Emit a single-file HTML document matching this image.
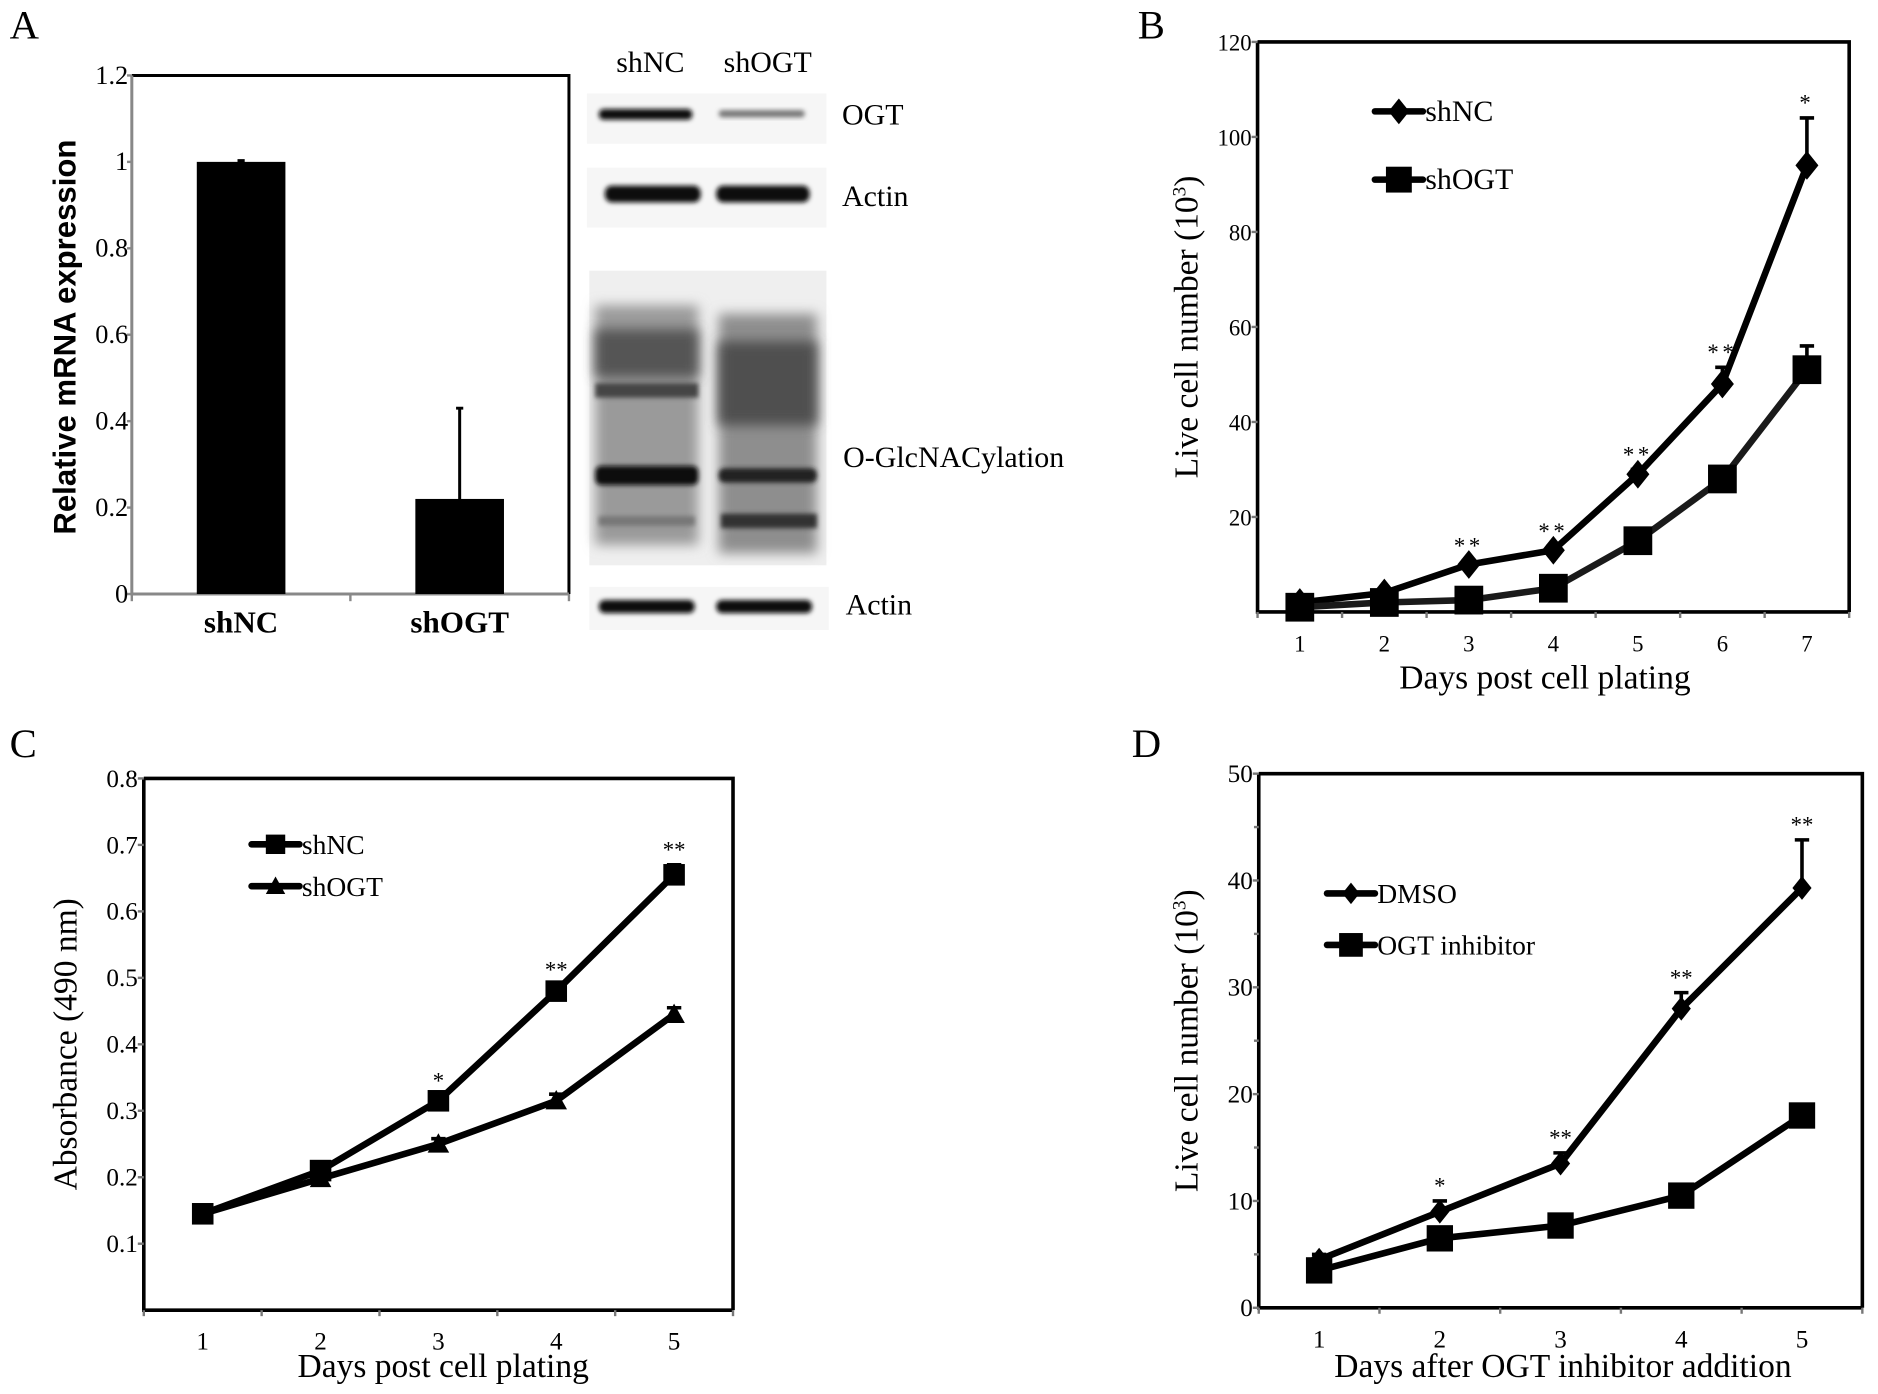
<!DOCTYPE html>
<html><head><meta charset="utf-8"><style>
html,body{margin:0;padding:0;background:#fff}
svg{display:block}
text{font-family:"Liberation Serif",serif;fill:#000}
</style></head><body>
<svg id="fig" width="1878" height="1394" viewBox="0 0 1568 1164" xmlns="http://www.w3.org/2000/svg">
<defs>
<filter id="blur2" x="-20%" y="-50%" width="140%" height="200%"><feGaussianBlur stdDeviation="2"/></filter>
<filter id="blur5" x="-20%" y="-20%" width="140%" height="140%"><feGaussianBlur stdDeviation="5"/></filter>
</defs>
<text x="8" y="32" font-size="34">A</text>
<text x="950" y="32" font-size="34">B</text>
<text x="8" y="632" font-size="34">C</text>
<text x="945" y="632" font-size="34">D</text>

<g>
  <text x="543" y="60" font-size="25" text-anchor="middle">shNC</text>
  <text x="641" y="60" font-size="25" text-anchor="middle">shOGT</text>
  <rect x="490" y="78" width="200" height="42" fill="#f6f6f6"/>
  <rect x="500" y="91" width="78" height="9" rx="4" fill="#111" filter="url(#blur2)"/>
  <rect x="600" y="92" width="72" height="6" rx="3" fill="#777" filter="url(#blur2)"/>
  <text x="703" y="104" font-size="25">OGT</text>
  <rect x="490" y="140" width="200" height="50" fill="#f6f6f6"/>
  <rect x="505" y="155" width="80" height="14" rx="6" fill="#0a0a0a" filter="url(#blur2)"/>
  <rect x="598" y="155" width="78" height="14" rx="6" fill="#0a0a0a" filter="url(#blur2)"/>
  <text x="703" y="172" font-size="25">Actin</text>
  <rect x="492" y="226" width="198" height="246" fill="#efefef"/>
  <rect x="497" y="255" width="86" height="200" fill="#9a9a9a" filter="url(#blur5)"/>
  <rect x="600" y="262" width="82" height="200" fill="#8e8e8e" filter="url(#blur5)"/>
  <rect x="497" y="275" width="86" height="40" fill="#555" filter="url(#blur5)"/>
  <rect x="600" y="285" width="82" height="70" fill="#505050" filter="url(#blur5)"/>
  <rect x="497" y="320" width="86" height="12" fill="#444" filter="url(#blur2)"/>
  <rect x="497" y="389" width="86" height="16" rx="5" fill="#111" filter="url(#blur2)"/>
  <rect x="600" y="391" width="82" height="12" rx="5" fill="#222" filter="url(#blur2)"/>
  <rect x="500" y="431" width="80" height="8" fill="#777" filter="url(#blur2)"/>
  <rect x="602" y="429" width="80" height="12" fill="#333" filter="url(#blur2)"/>
  <text x="704" y="390" font-size="25">O-GlcNACylation</text>
  <rect x="492" y="490" width="200" height="36" fill="#f6f6f6"/>
  <rect x="500" y="501" width="80" height="11" rx="5" fill="#0a0a0a" filter="url(#blur2)"/>
  <rect x="598" y="501" width="80" height="11" rx="5" fill="#0a0a0a" filter="url(#blur2)"/>
  <text x="706" y="513" font-size="25">Actin</text>
</g>
<g id="plots"></g>
</svg>
<script>
// ---------- Panel A data ----------
const aCategories = ["shNC", "shOGT"];
const aValues = [1.0, 0.22];
const aErrors = [0.003, 0.21];
const aTicks = [0, 0.2, 0.4, 0.6, 0.8, 1, 1.2];
const aTickLabels = ["0", "0.2", "0.4", "0.6", "0.8", "1", "1.2"];

// ---------- Panel B data ----------
const bDays = [1, 2, 3, 4, 5, 6, 7];
const bShNC = [2, 4, 10, 13, 29, 48, 94];
const bShNCErr = [0.5, 0.5, 0.8, 0.8, 1, 3.5, 10];
const bShOGT = [1, 2, 2.5, 5, 15, 28, 51];
const bShOGTErr = [0.5, 0.5, 0.5, 0.5, 0.5, 0.5, 5];
const bStars = ["", "", "**", "**", "**", "**", "*"];
const bTicks = [20, 40, 60, 80, 100, 120];

// ---------- Panel C data ----------
const cDays = [1, 2, 3, 4, 5];
const cShNC = [0.145, 0.21, 0.315, 0.48, 0.655];
const cShNCErr = [0.003, 0.005, 0.008, 0.01, 0.015];
const cShOGT = [0.145, 0.198, 0.25, 0.315, 0.445];
const cShOGTErr = [0.003, 0.005, 0.008, 0.01, 0.01];
const cStars = ["", "", "*", "**", "**"];
const cTicks = [0.1, 0.2, 0.3, 0.4, 0.5, 0.6, 0.7, 0.8];

// ---------- Panel D data ----------
const dDays = [1, 2, 3, 4, 5];
const dDMSO = [4.5, 9, 13.5, 28, 39.3];
const dDMSOErr = [0.5, 1, 1, 1.5, 4.5];
const dInhib = [3.5, 6.5, 7.7, 10.5, 18];
const dInhibErr = [0.3, 0.3, 0.3, 0.3, 0.3];
const dStars = ["", "*", "**", "**", "**"];
const dTicks = [0, 10, 20, 30, 40, 50];

const NS = "http://www.w3.org/2000/svg";
const root = document.getElementById("plots");
function mk(tag, attrs, parent) {
  const e = document.createElementNS(NS, tag);
  for (const k in attrs) e.setAttribute(k, attrs[k]);
  (parent || root).appendChild(e);
  return e;
}

// ===== Panel A bar chart =====
(function () {
  const L = 110, R = 475, T = 63, B = 496, yMax = 1.2;
  const y = v => B - (v / yMax) * (B - T);
  const band = (R - L) / aCategories.length;
  const x = i => L + band * (i + 0.5);
  const g = mk("g", {});
  
  
  mk("path", { d: `M${L} ${T}H${R}V${B}`, fill: "none", stroke: "#000", "stroke-width": 2.5 }, g);
  mk("path", { d: `M${L} ${T}V${B}H${R}`, fill: "none", stroke: "#888", "stroke-width": 2.5 }, g);
  for (let i = 0; i <= aCategories.length; i++) mk("line", { x1: L + band * i, x2: L + band * i, y1: B, y2: B + 6, stroke: "#888", "stroke-width": 2 }, g);
  aTicks.forEach((t, i) => {
    mk("line", { x1: L - 4, x2: L, y1: y(t), y2: y(t), stroke: "#888", "stroke-width": 2 }, g);
    const tx = mk("text", { x: L - 3, y: y(t) + 7, "font-size": 22, "text-anchor": "end" }, g);
    
    
    tx.textContent = aTickLabels[i];
  });
  aCategories.forEach((c, i) => {
    const bw = 74;
    const r = mk("rect", { x: x(i) - bw / 2, y: y(aValues[i]), width: bw, height: B - y(aValues[i]), fill: "#000" }, g);
    
    
    const ey = y(aValues[i] + aErrors[i]);
    const el = mk("path", { d: `M${x(i)} ${y(aValues[i])}V${ey}M${x(i) - 3} ${ey}H${x(i) + 3}`, stroke: "#000", "stroke-width": 2.5, fill: "none" }, g);
    
    
    const lb = mk("text", { x: x(i), y: 528, "font-size": 26, "font-weight": "bold", "text-anchor": "middle" }, g);
    
    
    lb.textContent = c;
  });
  const yt = mk("text", { x: 0, y: 0, "font-size": 26, "font-weight": "bold", "text-anchor": "middle", transform: `translate(63 ${(T + B) / 2 + 2}) rotate(-90)`, style: "font-family:'Liberation Sans',sans-serif" }, g);
  
  
  yt.textContent = "Relative mRNA expression";
})();

function marker(g, type, cx, cy, s) {
  let e;
  if (type === "diamond") e = mk("path", { d: `M${cx} ${cy - s}L${cx + s * 0.8} ${cy}L${cx} ${cy + s}L${cx - s * 0.8} ${cy}Z`, fill: "#000" }, g);
  else if (type === "square") e = mk("rect", { x: cx - s, y: cy - s, width: 2 * s, height: 2 * s, fill: "#000" }, g);
  else e = mk("path", { d: `M${cx} ${cy - s}L${cx + s} ${cy + s * 0.8}L${cx - s} ${cy + s * 0.8}Z`, fill: "#000" }, g);
  return e;
}
function linePanel(o) {
  const g = mk("g", {});
  
  
  const { L, R, T, B, yMax } = o;
  const y = v => B - (v / yMax) * (B - T);
  const band = (R - L) / o.days.length;
  const x = i => L + band * (i + 0.5);
  mk("path", { d: `M${L} ${T}H${R}V${B}`, fill: "none", stroke: "#000", "stroke-width": 3 }, g);
  mk("path", { d: `M${L} ${T}V${B}H${R}`, fill: "none", stroke: "#000", "stroke-width": 3 }, g);
  for (let i = 0; i <= o.days.length; i++) mk("line", { x1: L + band * i, x2: L + band * i, y1: B, y2: B + 5, stroke: "#777", "stroke-width": 2 }, g);
  (o.minor || []).forEach(t => mk("line", { x1: L - 4, x2: L, y1: y(t), y2: y(t), stroke: "#777", "stroke-width": 2 }, g));
  o.ticks.forEach(t => {
    mk("line", { x1: L - 5, x2: L, y1: y(t), y2: y(t), stroke: "#777", "stroke-width": 2 }, g);
    const tx = mk("text", { x: L - 5, y: y(t) + 7, "font-size": o.tickSize || 20, "text-anchor": "end" }, g);
    
    
    tx.textContent = String(t);
  });
  o.days.forEach((d, i) => {
    const tx = mk("text", { x: x(i), y: B + 33, "font-size": o.tickSize || 20, "text-anchor": "middle" }, g);
    
    
    tx.textContent = String(d);
  });
  o.series.forEach(s => {
    const sg = mk("g", {}, g);
    
    
    s.err.forEach((e, i) => {
      const ey = y(s.vals[i] + e);
      mk("path", { d: `M${x(i)} ${y(s.vals[i])}V${ey}M${x(i) - 6} ${ey}H${x(i) + 6}`, stroke: "#000", "stroke-width": 3, fill: "none" }, sg);
    });
    const pts = s.vals.map((v, i) => `${x(i)},${y(v)}`).join(" ");
    const pl = mk("polyline", { points: pts, fill: "none", stroke: s.color || "#000", "stroke-width": 5.5, "stroke-linejoin": "round" }, sg);
    
    
    s.vals.forEach((v, i) => {
      const m = marker(sg, s.marker, x(i), y(v), s.size);
      
      
    });
    const lg = mk("g", {}, g);
    
    
    mk("line", { x1: s.lx, x2: s.lx + o.legLen, y1: s.ly, y2: s.ly, stroke: "#000", "stroke-width": 5.5, "stroke-linecap": "round" }, lg);
    marker(lg, s.marker, s.lx + o.legLen / 2, s.ly, s.size * 0.9);
    const lt = mk("text", { x: s.lx + o.legLen + 2, y: s.ly + 8, "font-size": o.legSize || 23 }, lg);
    lt.textContent = s.label;
  });
  const top = o.series[0];
  o.stars.forEach((st, i) => {
    if (!st) return;
    const tx = mk("text", { x: x(i), y: y(top.vals[i] + top.err[i]) - 6, "font-size": 19, "text-anchor": "middle", "letter-spacing": o.starSp || 0 }, g);
    
    
    tx.textContent = st;
  });
  const xt = mk("text", { x: o.xtX, y: o.xtY, "font-size": 28, "text-anchor": "middle" }, g);
  
  
  xt.textContent = o.xTitle;
  const yt = mk("text", { x: 0, y: 0, "font-size": 28, "text-anchor": "middle", transform: `translate(${o.ytX} ${(T + B) / 2}) rotate(-90)` }, g);
  
  
  yt.innerHTML = o.yTitle;
}

linePanel({
  name: "panel-b-line-chart", L: 1050, R: 1544, T: 35, B: 511, yMax: 120,
  days: bDays, ticks: bTicks, stars: bStars, starSp: 3, tickSize: 19,
  legLen: 40, legSize: 25,
  series: [
    { key: "shnc", label: "shNC", vals: bShNC, err: bShNCErr, marker: "diamond", size: 12, lx: 1148, ly: 93 },
    { key: "shogt", label: "shOGT", vals: bShOGT, err: bShOGTErr, marker: "square", size: 12, lx: 1148, ly: 150, color: "#1a1a1a" }
  ],
  xTitle: "Days post cell plating", xtX: 1290, xtY: 575,
  yTitle: 'Live cell number (10<tspan font-size="16" dy="-10">3</tspan><tspan dy="10">)</tspan>', ytX: 1000
});

linePanel({
  name: "panel-c-line-chart", L: 120, R: 612, T: 650, B: 1094, yMax: 0.8,
  days: cDays, ticks: cTicks, stars: cStars, tickSize: 21,
  legLen: 40, legSize: 23,
  series: [
    { key: "shnc", label: "shNC", vals: cShNC, err: cShNCErr, marker: "square", size: 9, lx: 210, ly: 705 },
    { key: "shogt", label: "shOGT", vals: cShOGT, err: cShOGTErr, marker: "triangle", size: 9, lx: 210, ly: 740 }
  ],
  xTitle: "Days post cell plating", xtX: 370, xtY: 1150,
  yTitle: "Absorbance (490 nm)", ytX: 64
});

linePanel({
  name: "panel-d-line-chart", L: 1051, R: 1555, T: 646, B: 1092, yMax: 50,
  days: dDays, ticks: dTicks, minor: [5, 15, 25, 35, 45], stars: dStars, tickSize: 21,
  legLen: 40, legSize: 23,
  series: [
    { key: "dmso", label: "DMSO", vals: dDMSO, err: dDMSOErr, marker: "diamond", size: 10, lx: 1108, ly: 746 },
    { key: "ogt-inhibitor", label: "OGT inhibitor", vals: dInhib, err: dInhibErr, marker: "square", size: 11, lx: 1108, ly: 789 }
  ],
  xTitle: "Days after OGT inhibitor addition", xtX: 1305, xtY: 1150,
  yTitle: 'Live cell number (10<tspan font-size="16" dy="-10">3</tspan><tspan dy="10">)</tspan>', ytX: 1000
});
</script>
</body></html>
